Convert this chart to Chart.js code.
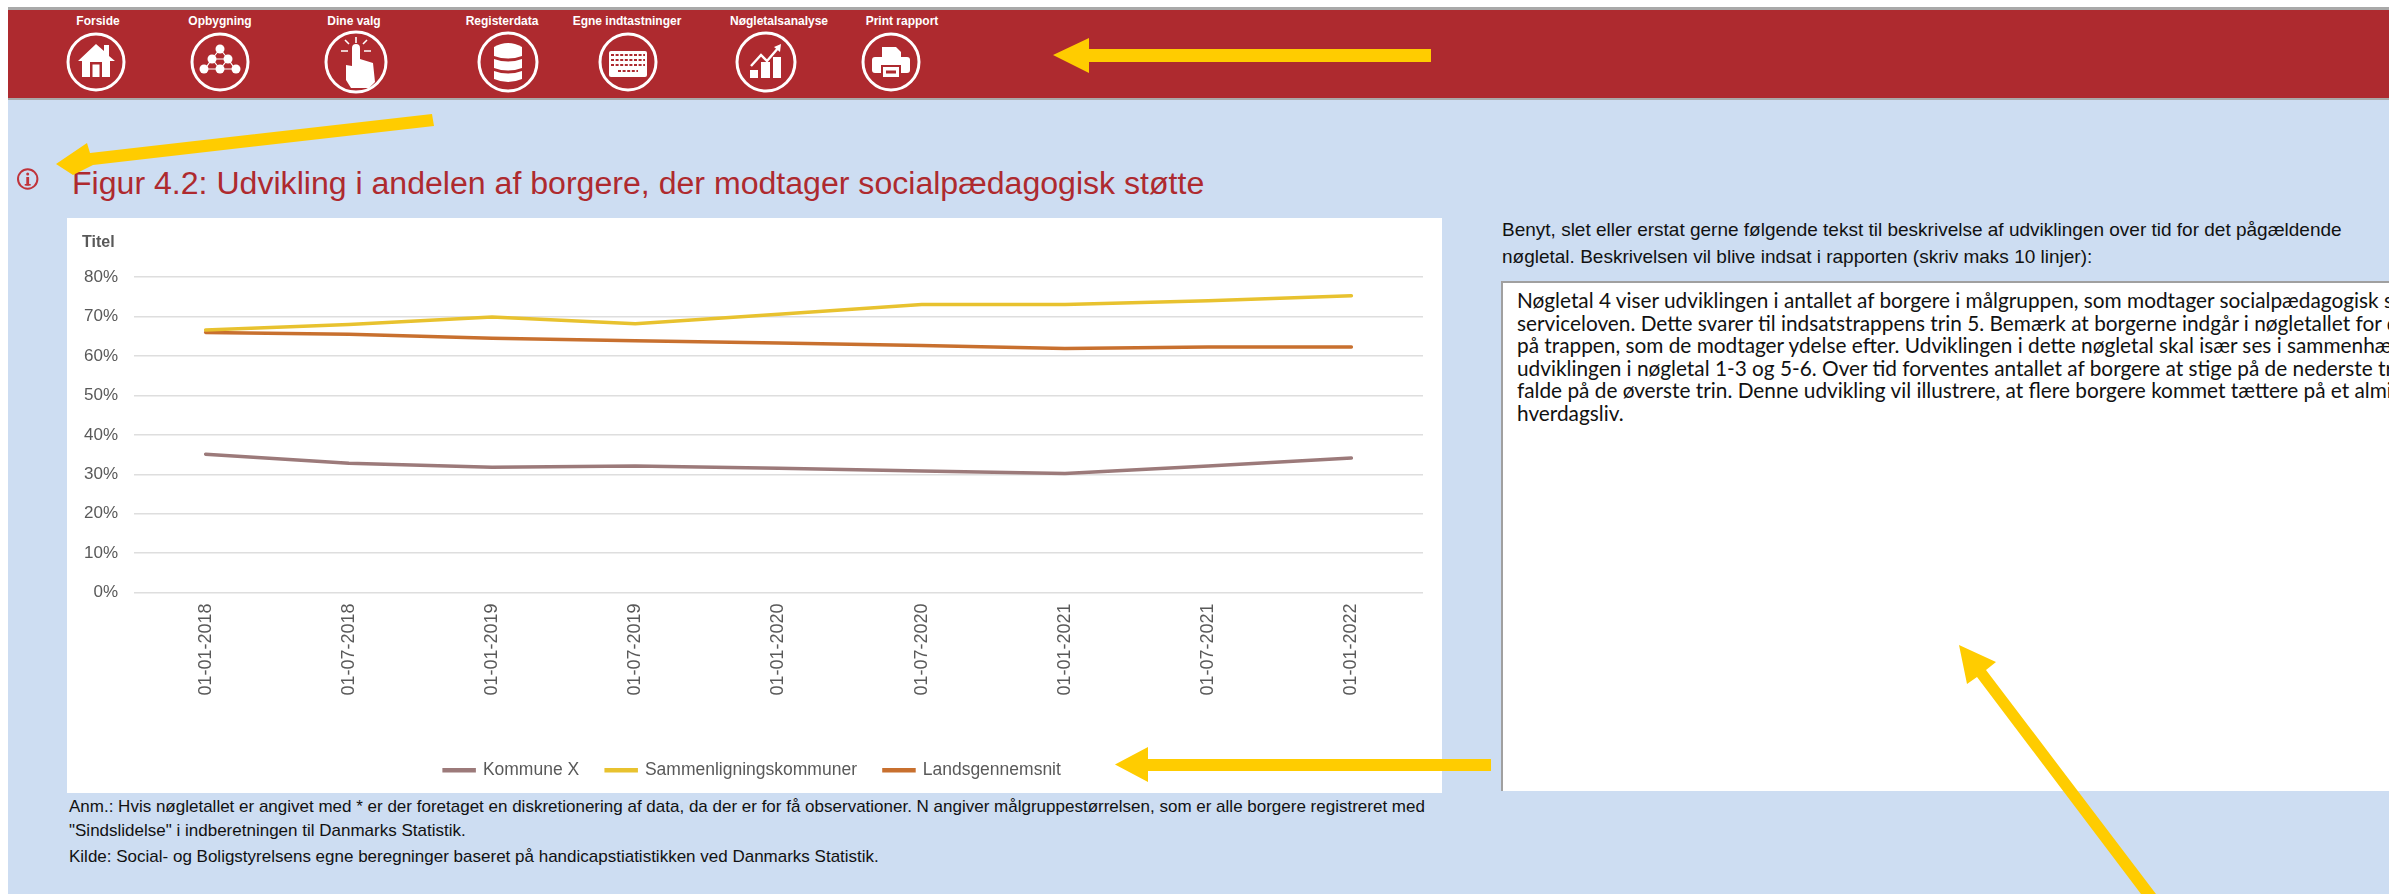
<!DOCTYPE html>
<html lang="da">
<head>
<meta charset="utf-8">
<title>Figur 4.2</title>
<script src="https://cdn.jsdelivr.net/npm/chart.js@4/dist/chart.umd.min.js"></script>
<style>
    html, body { margin: 0; padding: 0; background: #fff; }
    body { width: 2389px; height: 894px; position: relative; overflow: hidden; font-family: "Liberation Sans", Arial, sans-serif; }
    .page { position: absolute; left: 8px; top: 10px; right: 0; bottom: 0; background: #cdddf2; }
    .topline { position: absolute; left: 8px; top: 7px; right: 0; height: 3px; background: #a9a9a9; }
    .band { position: absolute; left: 8px; top: 10px; right: 0; height: 88px; background: #ae2a2f; border-bottom: 2px solid #a9a9a9; }
    .nav { position: absolute; top: 14px; color: #fff; font-size: 12px; font-weight: bold; line-height: 14px; transform: translateX(-50%); white-space: nowrap; }
    .title { position: absolute; left: 72px; top: 165px; color: #ae2a2f; font-size: 32.1px; line-height: 36px; white-space: nowrap; }
    .chartbox { position: absolute; left: 67px; top: 218px; width: 1375px; height: 575px; background: #fff; }
    .note { position: absolute; left: 69px; color: #111; font-size: 17px; line-height: 20px; white-space: nowrap; }
    .intro { position: absolute; left: 1502px; color: #111; font-size: 19px; line-height: 22px; white-space: nowrap; }
    .textbox { position: absolute; left: 1501px; top: 281px; right: 0; height: 510px; box-sizing: border-box; background: #fff; border-top: 2px solid #a0a0a0; border-left: 2px solid #a0a0a0; padding: 6px 0 0 14px; overflow: hidden; color: #111; font-family: Lato, sans-serif; font-size: 20.8px; line-height: 22.6px; white-space: pre; }
    svg.over { position: absolute; left: 0; top: 0; pointer-events: none; }
</style>
</head>
<body>
<div class="page"></div>
<div class="topline"></div>
<div class="band"></div>

<div class="nav" style="left:98px">Forside</div>
<div class="nav" style="left:220px">Opbygning</div>
<div class="nav" style="left:354px">Dine valg</div>
<div class="nav" style="left:502px">Registerdata</div>
<div class="nav" style="left:627px">Egne indtastninger</div>
<div class="nav" style="left:779px">Nøgletalsanalyse</div>
<div class="nav" style="left:902px">Print rapport</div>

<div class="title">Figur 4.2: Udvikling i andelen af borgere, der modtager socialpædagogisk støtte</div>

<div class="chartbox"><canvas id="udvikling" width="1375" height="575"></canvas></div>

<div class="note" style="top:797px">Anm.: Hvis nøgletallet er angivet med * er der foretaget en diskretionering af data, da der er for få observationer. N angiver målgruppestørrelsen, som er alle borgere registreret med</div>
<div class="note" style="top:821px">"Sindslidelse" i indberetningen til Danmarks Statistik.</div>
<div class="note" style="top:847px">Kilde: Social- og Boligstyrelsens egne beregninger baseret på handicapstiatistikken ved Danmarks Statistik.</div>

<div class="intro" style="top:219px">Benyt, slet eller erstat gerne følgende tekst til beskrivelse af udviklingen over tid for det pågældende</div>
<div class="intro" style="top:246px">nøgletal. Beskrivelsen vil blive indsat i rapporten (skriv maks 10 linjer):</div>

<div class="textbox">Nøgletal 4 viser udviklingen i antallet af borgere i målgruppen, som modtager socialpædagogisk støtte efter
serviceloven. Dette svarer til indsatstrappens trin 5. Bemærk at borgerne indgår i nøgletallet for det højeste trin
på trappen, som de modtager ydelse efter. Udviklingen i dette nøgletal skal især ses i sammenhæng med
udviklingen i nøgletal 1-3 og 5-6. Over tid forventes antallet af borgere at stige på de nederste trin og
falde på de øverste trin. Denne udvikling vil illustrere, at flere borgere kommet tættere på et almindeligt
hverdagsliv.</div>

<svg class="over" width="2389" height="894">
    <defs>
        <g id="ring"><circle r="28" fill="none" stroke="#fff" stroke-width="3"/></g>
    </defs>
    <!-- Forside -->
    <g transform="translate(96,62)" fill="#fff">
        <use href="#ring"/>
        <path d="M-18,-1 L0,-18 L8,-11 L8,-17 L13,-17 L13,-6 L19,-1 L14,-1 L14,15 L-14,15 L-14,-1 Z"/>
        <rect x="-6" y="0" width="12" height="15" fill="#ae2a2f"/>
        <rect x="-3.5" y="2.5" width="7" height="12.5" fill="#fff"/>
    </g>
    <!-- Opbygning -->
    <g transform="translate(220,62)" fill="#fff" stroke="#fff">
        <use href="#ring"/>
        <path d="M0,-13 L-8,-3 L-15,7 L15,7 L8,-3 Z M-8,-3 L0,7 L8,-3 Z" fill="none" stroke-width="1.2"/>
        <g stroke="none">
            <circle cx="0" cy="-13" r="4.5"/><circle cx="-8" cy="-3" r="4.5"/><circle cx="8" cy="-3" r="4.5"/>
            <circle cx="-16" cy="7" r="4.5"/><circle cx="0" cy="7" r="4.5"/><circle cx="16" cy="7" r="4.5"/>
        </g>
    </g>
    <!-- Dine valg -->
    <g transform="translate(356,62)" fill="#fff">
        <circle r="30" fill="none" stroke="#fff" stroke-width="3"/>
        <path d="M-4,-14 a4,4 0 0 1 8,0 L4,-3 L17,1 L19,20 L13,26 L-5,26 L-10,18 L-10,3 L-4,4 Z"/>
        <path d="M0,-25 V-19 M-11,-22 L-7,-18 M11,-22 L7,-18 M-15,-11 H-8 M8,-11 H15" stroke="#fff" stroke-width="1.6"/>
    </g>
    <!-- Registerdata -->
    <g transform="translate(508,62)" fill="#fff">
        <circle r="29" fill="none" stroke="#fff" stroke-width="3"/>
        <path d="M-14,-15 Q0,-23 14,-15 V-6 Q0,-1 -14,-6 Z"/>
        <path d="M-14,-3 Q0,2 14,-3 V6 Q0,11 -14,6 Z"/>
        <path d="M-14,9 Q0,14 14,9 V17 Q0,23 -14,17 Z"/>
    </g>
    <!-- Egne indtastninger -->
    <g transform="translate(628,62)" fill="#fff">
        <circle r="28" fill="none" stroke="#fff" stroke-width="3"/>
        <rect x="-19" y="-11" width="38" height="26" rx="2"/>
        <path d="M-17,-7 H17 M-17,-2 H17 M-17,3 H17 M-10,9 H10" stroke="#ae2a2f" stroke-width="2" stroke-dasharray="3 1.6"/>
    </g>
    <!-- Nøgletalsanalyse -->
    <g transform="translate(766,62)" fill="#fff">
        <circle r="29" fill="none" stroke="#fff" stroke-width="3"/>
        <rect x="-16" y="8" width="8" height="8"/><rect x="-5" y="0" width="9" height="16"/><rect x="7" y="-5" width="8" height="21"/>
        <path d="M-15,4 L-5,-7 L1,-1 L13,-15" fill="none" stroke="#fff" stroke-width="2.4"/>
        <path d="M8,-15 L15,-18 L14,-10 Z"/>
    </g>
    <!-- Print rapport -->
    <g transform="translate(891,62)" fill="#fff">
        <circle r="28" fill="none" stroke="#fff" stroke-width="3"/>
        <path d="M-9,-15 H5 L10,-10 V-4 H-9 Z"/>
        <rect x="-19" y="-5" width="38" height="16" rx="3"/>
        <rect x="-10" y="3" width="20" height="14" fill="#ae2a2f"/>
        <rect x="-8" y="5" width="16" height="10" fill="#fff"/>
        <rect x="-5" y="8.5" width="10" height="3" fill="#ae2a2f"/>
    </g>

    <!-- info-ikon -->
    <g transform="translate(27.7,179)">
        <circle r="9.7" fill="none" stroke="#c0333a" stroke-width="2"/>
        <circle cx="0" cy="-5" r="1.5" fill="#c0333a"/>
        <rect x="-1.4" y="-2" width="2.8" height="8.5" fill="#c0333a"/>
        <rect x="-3" y="5" width="6" height="1.6" fill="#c0333a"/>
    </g>

    <!-- gule pile -->
    <g fill="#ffcc00">
        <path d="M1053,55 L1089,38 V49 H1431 V62 H1089 V73 Z"/>
        <path d="M56,164 L87,143 L90,153 L432,114 L434,126 L93,165 L73,175 Z"/>
        <path d="M1115,764.5 L1148,747 V759 H1491 V771 H1148 V782 Z"/>
        <path d="M1959,645 L1996,662 L1986,670 L2156,894 H2141 L1977,677 L1967,684 Z"/>
    </g>
</svg>

<script>
    const datoer = ['01-01-2018', '01-07-2018', '01-01-2019', '01-07-2019', '01-01-2020', '01-07-2020', '01-01-2021', '01-07-2021', '01-01-2022'];
    const kommuneX = [35.1, 32.8, 31.8, 32.1, 31.5, 30.8, 30.2, 32.1, 34.1];
    const sammenligning = [66.6, 68.0, 69.9, 68.2, 70.6, 73.1, 73.1, 74.0, 75.3];
    const landsgennemsnit = [66.0, 65.5, 64.5, 63.9, 63.3, 62.7, 61.9, 62.3, 62.3];

    function linje(label, data, farve) {
        return {
            label: label,
            data: data,
            borderColor: farve,
            backgroundColor: farve,
            borderWidth: 3.5,
            borderCapStyle: 'round',
            pointRadius: 0,
            tension: 0,
            fill: false
        };
    }

    new Chart(document.getElementById('udvikling'), {
        type: 'line',
        data: {
            labels: datoer,
            datasets: [
                linje('Kommune X', kommuneX, '#9c7a7a'),
                linje('Sammenligningskommuner', sammenligning, '#e8c22f'),
                linje('Landsgennemsnit', landsgennemsnit, '#c8702f')
            ]
        },
        options: {
            responsive: false,
            animation: false,
            layout: { padding: { left: 15, right: 19, top: 0, bottom: 4 } },
            plugins: {
                title: {
                    display: true,
                    text: 'Titel',
                    align: 'start',
                    color: '#595959',
                    font: { family: 'Liberation Sans', size: 16, weight: 'bold' },
                    padding: { top: 15, bottom: 25 }
                },
                legend: {
                    position: 'bottom',
                    labels: {
                        boxWidth: 30,
                        boxHeight: 1,
                        padding: 27,
                        color: '#595959',
                        font: { family: 'Liberation Sans', size: 17.5 }
                    }
                },
                tooltip: { enabled: false }
            },
            scales: {
                x: {
                    offset: true,
                    grid: { display: false },
                    border: { display: false },
                    afterFit: function (scale) { scale.height = 142; },
                    ticks: {
                        minRotation: 90,
                        maxRotation: 90,
                        padding: 3,
                        autoSkip: false,
                        color: '#595959',
                        font: { family: 'Liberation Sans', size: 18 }
                    }
                },
                y: {
                    min: 0,
                    max: 80,
                    afterFit: function (scale) { scale.width = 52; },
                    grid: { color: '#dedede', lineWidth: 1.5, drawTicks: false },
                    border: { display: false },
                    ticks: {
                        stepSize: 10,
                        padding: 16,
                        color: '#595959',
                        font: { family: 'Liberation Sans', size: 17 },
                        callback: function (v) { return v + '%'; }
                    }
                }
            }
        }
    });
</script>
</body>
</html>
